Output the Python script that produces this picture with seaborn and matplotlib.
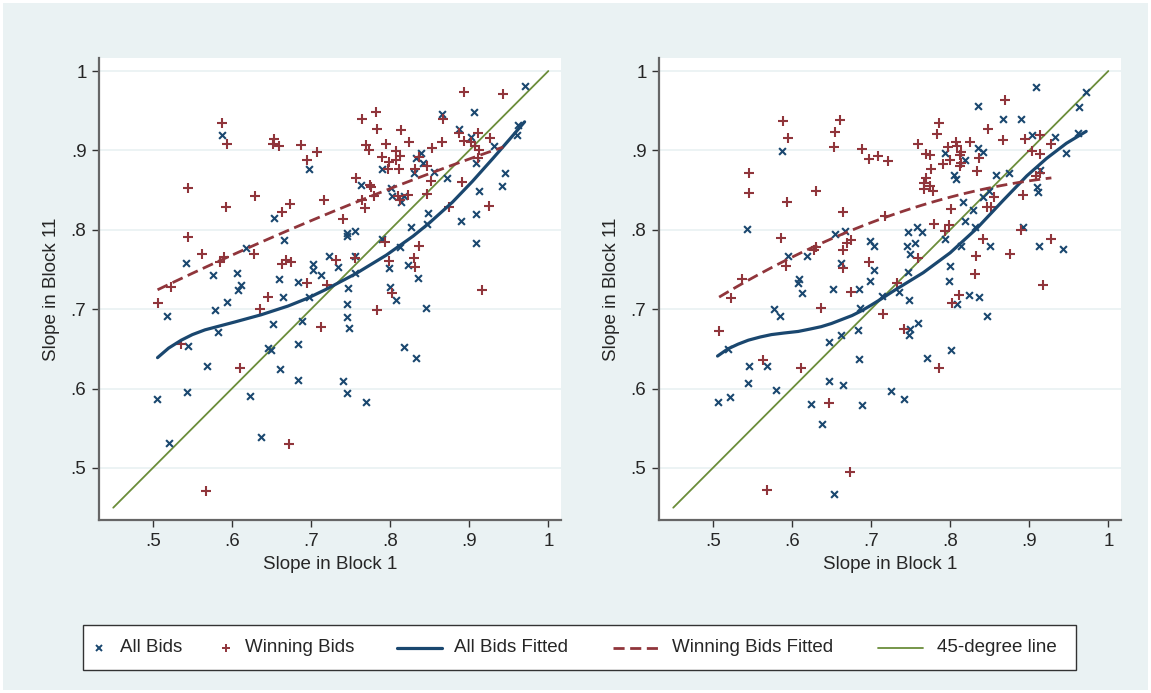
import matplotlib
matplotlib.use("Agg")
import matplotlib.pyplot as plt
from matplotlib.lines import Line2D
from matplotlib.patches import Rectangle
import numpy as np
import pandas as pd
import seaborn as sns

# ---- data ----
# left panel: all bids (x = slope block 1, y = slope block 11)
all1_x = [.587, .697, .653, .666, .618, .542, .576, .606, .660, .684, .702, .702, .713, .723, .608, .612,
          .970, .906, .865, .887, .902, .962, .960, .931, .839, .833, .841, .830, .856, .790, .908, .872,
          .945, .942, .763, .801, .803, .817, .814, .912, .848, .847, .908, .889, .827, .745, .745, .755,
          .790, .812, .909, .755, .734, .798, .823, .756, .835, .747, .800,
          .664, .697, .594, .579, .518, .583, .652, .688, .545, .645, .650, .683, .568, .661, .683, .505,
          .543, .623, .521, .637,
          .807, .746, .845, .746, .748, .817, .833, .740, .746, .769]
all1_y = [.919, .877, .815, .787, .777, .758, .743, .746, .738, .734, .757, .750, .743, .767, .724, .730,
          .981, .949, .946, .927, .917, .932, .919, .906, .897, .890, .884, .872, .873, .877, .884, .865,
          .872, .855, .856, .853, .842, .843, .835, .849, .821, .807, .820, .811, .803, .796, .792, .799,
          .788, .778, .783, .767, .753, .752, .756, .746, .739, .727, .728,
          .716, .716, .709, .699, .692, .671, .681, .685, .654, .651, .649, .656, .629, .625, .611, .587,
          .596, .591, .531, .539,
          .711, .707, .701, .690, .676, .653, .638, .609, .594, .583]

# left panel: winning bids
win1_x = [.588, .594, .653, .652, .659, .687, .695, .707, .544, .592, .629, .673, .663, .717, .544, .562,
          .628, .590, .585, .663, .669, .675, .695, .523,
          .894, .943, .782, .765, .867, .784, .814, .887, .911, .894, .902, .926, .824, .865, .769, .773,
          .795, .807, .813, .790, .798, .808, .836, .853, .907, .912, .911, .797, .811, .832, .846, .757,
          .774, .776, .852, .891, .779, .810, .812, .822, .846, .765, .768, .875, .925, .741, .793, .836,
          .731, .756, .799, .830, .831, .916,
          .506, .646, .636, .720, .713, .536, .610, .672, .567, .802, .784]
win1_y = [.935, .908, .914, .908, .905, .907, .888, .898, .853, .829, .843, .832, .822, .838, .791, .770,
          .770, .766, .760, .757, .762, .760, .733, .728,
          .973, .971, .948, .940, .940, .927, .926, .922, .922, .912, .911, .916, .911, .911, .907, .901,
          .908, .899, .893, .892, .886, .888, .892, .903, .906, .900, .890, .877, .877, .877, .880, .865,
          .856, .854, .862, .860, .843, .843, .838, .844, .845, .837, .827, .829, .830, .813, .785, .780,
          .762, .765, .761, .765, .753, .724,
          .708, .715, .700, .730, .678, .656, .626, .530, .471, .720, .699]

# right panel: all bids
all2_x = [.588, .543, .655, .667, .699, .704, .595, .619, .662, .704, .609, .608, .699, .652, .685,
          .908, .972, .963, .835, .867, .889, .904, .932, .962, .947, .793, .835, .841, .819, .805, .807,
          .858, .874, .914, .910, .911, .842, .849, .816, .829, .819, .758, .747, .765, .756, .746, .793,
          .831, .892, .814, .851, .912, .943, .749, .800, .747, .799,
          .613, .714, .577, .585, .686, .684, .662, .647, .519, .546, .569, .685, .544, .647, .665, .580,
          .725, .506, .522, .624, .689, .638, .653,
          .736, .748, .824, .837, .809, .846, .759, .749, .748, .801, .771, .742]
all2_y = [.899, .801, .795, .798, .786, .779, .767, .767, .758, .750, .738, .733, .736, .726, .725,
          .980, .974, .955, .956, .939, .939, .920, .917, .922, .897, .897, .903, .898, .888, .869, .864,
          .869, .872, .875, .854, .848, .841, .849, .835, .825, .811, .804, .797, .797, .783, .780, .788,
          .804, .803, .779, .779, .779, .776, .769, .754, .747, .735,
          .721, .717, .700, .692, .701, .674, .668, .659, .650, .628, .629, .637, .607, .610, .604, .598,
          .597, .583, .590, .581, .579, .556, .467,
          .722, .712, .718, .715, .706, .691, .683, .675, .667, .649, .639, .587]

# right panel: winning bids
win2_x = [.589, .595, .661, .655, .653, .689, .697, .709, .722, .546, .546, .594, .630, .665, .718, .586,
          .631, .628, .665, .670, .675, .592, .665, .697, .537,
          .869, .786, .783, .848, .867, .895, .913, .928, .759, .808, .809, .825, .797, .770, .774, .814,
          .812, .837, .904, .913, .800, .791, .814, .813, .776, .834, .914, .909, .769, .767, .775, .767,
          .778, .855, .892, .847, .852, .801, .780, .799, .889, .794, .841, .927, .759, .876, .833, .832,
          .918, .733,
          .523, .508, .564, .611, .637, .675, .715, .647, .673, .568, .811, .803, .742, .786]
win2_y = [.937, .916, .938, .923, .904, .902, .889, .893, .887, .871, .846, .835, .849, .823, .817, .790,
          .778, .774, .775, .783, .787, .754, .752, .760, .738,
          .963, .935, .921, .927, .913, .914, .919, .908, .908, .911, .906, .911, .904, .895, .894, .898,
          .894, .891, .899, .895, .888, .883, .884, .880, .877, .874, .872, .868, .865, .859, .855, .851,
          .849, .841, .844, .829, .829, .826, .807, .806, .800, .798, .789, .788, .765, .769, .767, .744,
          .730, .733,
          .714, .673, .636, .626, .702, .722, .694, .582, .495, .472, .718, .708, .675, .626]

# "All Bids Fitted" curves
fit_all1_x = [.506, .520, .536, .550, .566, .585, .604, .637, .671, .696, .719, .757, .795, .829, .850, .879,
              .904, .930, .951, .970]
fit_all1_y = [.639, .651, .661, .668, .674, .679, .684, .693, .704, .714, .725, .745, .768, .792, .809, .835,
              .861, .890, .914, .936]
fit_all2_x = [.506, .519, .532, .545, .560, .574, .590, .608, .623, .637, .650, .663, .676, .688, .700, .713,
              .730, .766, .800, .834, .867, .897, .922, .947, .972]
fit_all2_y = [.641, .650, .656, .661, .665, .668, .670, .672, .675, .678, .682, .687, .692, .698, .705, .713,
              .724, .746, .771, .802, .837, .868, .890, .909, .924]
diag = [0.45, 1.0]

tick_vals = [.5, .6, .7, .8, .9, 1]
tick_labels = [".5", ".6", ".7", ".8", ".9", "1"]

# ---- style ----
BLUE = "#1a476f"
RED = "#90353b"
GREEN = "#6b8d3a"
BG = "#eaf2f3"

sns.set_style("white")
plt.rcParams["font.family"] = ["Liberation Sans", "DejaVu Sans"]
plt.rcParams["font.size"] = 13.5

fig = plt.figure(figsize=(11.51, 6.93), dpi=100)
fig.patch.set_facecolor("white")
fig.add_artist(Rectangle((3 / 1151, 3 / 693), 1 - 6 / 1151, 1 - 6 / 693, transform=fig.transFigure,
                         facecolor=BG, edgecolor="none", zorder=-10))

ax1 = fig.add_axes([99 / 1151, 1 - 520 / 693, 462 / 1151, 462 / 693])
ax2 = fig.add_axes([659 / 1151, 1 - 520 / 693, 462 / 1151, 462 / 693])

panels = [
    (ax1, all1_x, all1_y, win1_x, win1_y, fit_all1_x, fit_all1_y),
    (ax2, all2_x, all2_y, win2_x, win2_y, fit_all2_x, fit_all2_y),
]

for ax, ax_, ay_, wx_, wy_, fx_, fy_ in panels:
    ax.set_facecolor("white")
    for t in tick_vals:
        ax.axhline(t, color=BG, lw=1.3, zorder=0)
    df_all = pd.DataFrame({"x": ax_, "y": ay_})
    df_win = pd.DataFrame({"x": wx_, "y": wy_})
    sns.scatterplot(data=df_all, x="x", y="y", marker="x", s=24, color=BLUE, linewidth=1.5, ax=ax, zorder=3)
    sns.scatterplot(data=df_win, x="x", y="y", marker="+", s=42, color=RED, linewidth=1.5, ax=ax, zorder=3)
    # all bids fitted: read-off curve; winning bids fitted: quadratic fit of the winning bids
    ln = ax.lines[:]
    sns.lineplot(x=fx_, y=fy_, color=BLUE, lw=2.3, estimator=None, ax=ax, zorder=4)
    for l in ax.lines[len(ln):]:
        l.set_solid_joinstyle("round")
    sns.regplot(data=df_win, x="x", y="y", order=2, scatter=False, ci=None, ax=ax,
                line_kws={"color": RED, "lw": 2.0, "dashes": [4, 2], "zorder": 4})
    sns.lineplot(x=diag, y=diag, color=GREEN, lw=1.3, estimator=None, ax=ax, zorder=2)

    ax.set_xlim(0.432, 1.016)
    ax.set_ylim(0.4345, 1.0164)
    ax.set_xticks(tick_vals)
    ax.set_xticklabels(tick_labels)
    ax.set_yticks(tick_vals)
    ax.set_yticklabels(tick_labels)
    ax.tick_params(direction="out", length=5, width=1, color="#333333", labelsize=13.5, pad=4,
                   bottom=True, left=True)
    for s in ["top", "right"]:
        ax.spines[s].set_visible(False)
    for s in ["left", "bottom"]:
        ax.spines[s].set_color("#666666")
        ax.spines[s].set_linewidth(1.6)
    ax.set_xlabel("Slope in Block 1", fontsize=13.5, labelpad=5)
    ax.set_ylabel("Slope in Block 11", fontsize=13.5, labelpad=8)
    ax.grid(False)

# legend drawn by hand so marker keys stay narrow like the original
W, H = 1151, 693
def fx(p):
    return p / W
def fy(p):
    return 1 - p / H

fig.add_artist(Rectangle((fx(83), fy(670)), fx(1076) - fx(83), fy(625) - fy(670), transform=fig.transFigure,
                         facecolor="white", edgecolor="#333333", lw=1.0, zorder=5))
ly = fy(648)
fig.add_artist(Line2D([fx(99)], [ly], transform=fig.transFigure, color=BLUE, marker="x", ls="none",
                      markersize=4.5, markeredgewidth=1.4, zorder=6))
fig.add_artist(Line2D([fx(226)], [ly], transform=fig.transFigure, color=RED, marker="+", ls="none",
                      markersize=6, markeredgewidth=1.4, zorder=6))
fig.add_artist(Line2D([fx(397), fx(442)], [ly, ly], transform=fig.transFigure, color=BLUE, lw=2.3, zorder=6))
fig.add_artist(Line2D([fx(613), fx(658)], [ly, ly], transform=fig.transFigure, color=RED, lw=2.0,
                      dashes=[4, 2], zorder=6))
fig.add_artist(Line2D([fx(878), fx(923)], [ly, ly], transform=fig.transFigure, color=GREEN, lw=1.3, zorder=6))
labels = ["All Bids", "Winning Bids", "All Bids Fitted", "Winning Bids Fitted", "45-degree line"]
label_x = [120, 245, 454, 672, 937]
for lab, px in zip(labels, label_x):
    fig.text(fx(px), ly, lab, ha="left", va="center", fontsize=13.5, zorder=7)

fig.savefig("out.png", dpi=100, facecolor=fig.get_facecolor())
